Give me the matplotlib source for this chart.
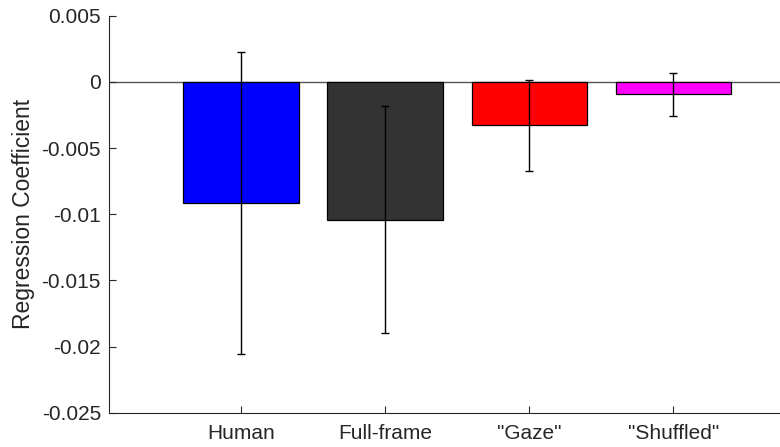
import matplotlib
matplotlib.use("Agg")
import matplotlib.pyplot as plt
import numpy as np

categories = ["Human", "Full-frame", "\"Gaze\"", "\"Shuffled\""]
coefficients = [-0.00917, -0.01043, -0.00328, -0.00095]
errors = [0.01143, 0.00858, 0.00343, 0.00161]
bar_colors = ["#0000ff", "#333333", "#ff0000", "#ff00ff"]
yticks = [-0.025, -0.02, -0.015, -0.01, -0.005, 0, 0.005]
ytick_labels = ["-0.025", "-0.02", "-0.015", "-0.01", "-0.005", "0", "0.005"]

plt.rcParams["font.family"] = ["Liberation Sans", "DejaVu Sans"]

W, H = 780, 447
fig = plt.figure(figsize=(W / 100, H / 100), dpi=100)
left_px, right_px, top_px, bottom_px = 109.3, 782, 15.7, 412.7
ax = fig.add_axes([left_px / W, (H - bottom_px) / H,
                   (right_px - left_px) / W, (bottom_px - top_px) / H])

x = np.arange(1, len(categories) + 1)
ax.bar(x, coefficients, width=0.8, color=bar_colors, edgecolor="black",
       linewidth=0.9, zorder=2)
ax.errorbar(x, coefficients, yerr=errors, fmt="none", ecolor="black",
            elinewidth=1.0, capsize=3, capthick=1.0, zorder=3)
ax.axhline(0, color="#555555", linewidth=1.0, zorder=1)

ax.set_ylim(-0.025, 0.005)
ax.set_xlim(1 - (241 - left_px) / 144.1, 4 + (right_px - 673.3) / 144.1)
ax.set_xticks(x)
ax.set_xticklabels(categories)
ax.set_yticks(yticks)
ax.set_yticklabels(ytick_labels)
ax.set_ylabel("Regression Coefficient", fontsize=16.5, color="#262626", labelpad=5)

for side in ("top", "right"):
    ax.spines[side].set_visible(False)
for side in ("left", "bottom"):
    ax.spines[side].set_color("#262626")
    ax.spines[side].set_linewidth(0.8)
ax.tick_params(direction="in", length=5, width=0.8, color="#262626",
               labelsize=15, labelcolor="#262626")
ax.tick_params(axis="y", pad=6)
ax.tick_params(axis="x", pad=8)

fig.savefig("out.png", dpi=100)
